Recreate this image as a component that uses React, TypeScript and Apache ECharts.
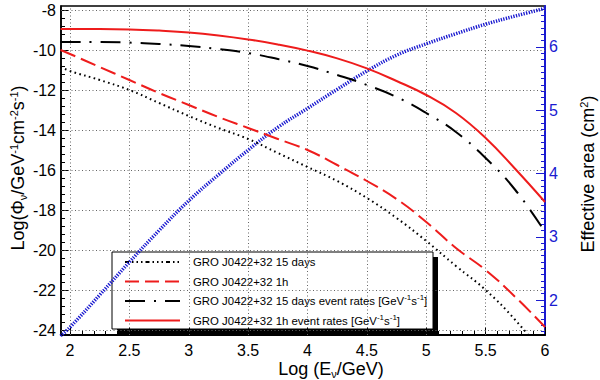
import React, { useEffect, useRef } from "react";
import * as echarts from "echarts";

// ---- data ----
const logE = [1.92, 2.0, 2.25, 2.5, 2.75, 3.0, 3.25, 3.5, 3.75, 4.0, 4.25, 4.5, 4.75, 5.0, 5.25, 5.5, 5.75, 6.0];
const flux15d = [-10.85, -11.05, -11.5, -12.0, -12.65, -13.3, -13.9, -14.45, -15.15, -15.85, -16.55, -17.4, -18.4, -19.55, -20.8, -22.0, -23.5, -25.3];
const flux1h = [-10.0, -10.2, -10.85, -11.5, -12.15, -12.75, -13.35, -13.9, -14.45, -15.0, -15.75, -16.55, -17.45, -18.6, -19.9, -21.0, -22.35, -23.85];
const rate15d = [-9.6, -9.6, -9.6, -9.63, -9.7, -9.8, -9.95, -10.15, -10.45, -10.8, -11.25, -11.75, -12.35, -13.15, -14.1, -15.4, -17.0, -19.1];
const rate1h = [-8.95, -8.95, -8.95, -8.97, -9.03, -9.12, -9.27, -9.47, -9.72, -10.03, -10.42, -10.92, -11.55, -12.25, -13.15, -14.4, -15.95, -17.6];
const effArea = [1.43, 1.57, 2.08, 2.6, 3.1, 3.57, 3.98, 4.37, 4.73, 5.03, 5.33, 5.62, 5.87, 6.05, 6.21, 6.36, 6.49, 6.61];

const xTicks = [2, 2.5, 3, 3.5, 4, 4.5, 5, 5.5, 6];
const yTicks = [-24, -22, -20, -18, -16, -14, -12, -10, -8];
const y2Ticks = [2, 3, 4, 5, 6];

const legendNames = [
  "GRO J0422+32 15 days",
  "GRO J0422+32 1h",
  "GRO J0422+32 15 days event rates",
  "GRO J0422+32 1h event rates",
];

const X_MIN = 1.924, X_MAX = 6.0;
const Y_MIN = -24.25, Y_MAX = -7.8;
const Y2_MIN = 1.447, Y2_MAX = 6.648;

function range(a: number, b: number, step: number) {
  const out: number[] = [];
  const n = Math.round((b - a) / step);
  for (let i = 0; i <= n; i++) out.push(Math.round((a + i * step) * 1000) / 1000);
  return out;
}
const xMinor = range(1.8, 6.0, 0.1).filter((v) => v > X_MIN && v < X_MAX);
const yMinor = range(-24.4, -7.6, 0.4).filter((v) => v > Y_MIN && v < Y_MAX);
const y2Minor = range(1.0, 7.0, 0.1).filter((v) => v > Y2_MIN && v < Y2_MAX);

const pairs = (ys: number[]) => logE.map((x, i) => [x, ys[i]]);

const FONT = "Liberation Sans, Arial, Helvetica, sans-serif";
const BLUE = "#1a1ad0";
const RED = "#ee1c1c";

export default function App() {
  const ref = useRef<HTMLDivElement>(null);
  useEffect(() => {
    if (!ref.current) return;
    const chart = echarts.init(ref.current, null, { renderer: "svg" });

    const titleRich = {
      m: { fontSize: 18, fontFamily: FONT, color: "#000", lineHeight: 20 },
      sup: { fontSize: 11, fontFamily: FONT, color: "#000", lineHeight: 12, verticalAlign: "top" },
      sub: { fontSize: 11, fontFamily: FONT, color: "#000", lineHeight: 12, verticalAlign: "bottom" },
    };
    const legRich = {
      m: { fontSize: 11.4, fontFamily: FONT, color: "#000", lineHeight: 15 },
      sup: { fontSize: 8, fontFamily: FONT, color: "#000", lineHeight: 9, verticalAlign: "top" },
    };

    const legendRowsY = [262, 281.5, 301, 320.5];
    const legendStyles: any[] = [
      { stroke: "#000", lineWidth: 2, lineDash: [4, 3, 1.5, 3, 1.5, 3, 1.5, 3] },
      { stroke: RED, lineWidth: 2, lineDash: [14, 6] },
      { stroke: "#000", lineWidth: 2, lineDash: [20, 9, 2, 9] },
      { stroke: RED, lineWidth: 2 },
    ];
    const legendTexts = [
      `{m|${legendNames[0]}}`,
      `{m|${legendNames[1]}}`,
      `{m|${legendNames[2]} [GeV}{sup|-1}{m|s}{sup|-1}{m|]}`,
      `{m|${legendNames[3]} [GeV}{sup|-1}{m|s}{sup|-1}{m|]}`,
    ];

    const legendChildren: any[] = [
      { type: "rect", shape: { x: 117, y: 257, width: 321, height: 77 }, style: { fill: "#000" } },
      { type: "rect", shape: { x: 112, y: 252, width: 321, height: 77 }, style: { fill: "#fff", stroke: "#000", lineWidth: 1 } },
    ];
    legendRowsY.forEach((y, i) => {
      legendChildren.push({ type: "line", shape: { x1: 125, y1: y, x2: 180, y2: y }, style: legendStyles[i] });
      legendChildren.push({
        type: "text",
        x: 193,
        y: y,
        style: { text: legendTexts[i], rich: legRich, verticalAlign: "middle", align: "left" },
      });
    });

    const axisBase = {
      type: "value" as const,
      splitLine: { show: false },
      minorTick: { show: false },
    };

    const gridLineData = [
      ...xTicks.filter((v) => v < X_MAX).map((v) => ({ xAxis: v })),
      ...yTicks.map((v) => ({ yAxis: v })),
    ];

    const lineBase = {
      type: "line" as const,
      smooth: 0.45,
      showSymbol: false,
      clip: true,
      z: 3,
    };

    const option: any = {
      animation: false,
      backgroundColor: "#fff",
      grid: { left: 61, right: 55, top: 6, bottom: 45, show: true, borderColor: "#000", borderWidth: 1.5, backgroundColor: "transparent" },
      xAxis: [
        {
          ...axisBase,
          min: X_MIN,
          max: X_MAX,
          position: "bottom",
          axisLine: { show: true, lineStyle: { color: "#000", width: 2 } },
          axisTick: { show: true, inside: true, length: 8, customValues: xTicks, lineStyle: { color: "#000", width: 1 } },
          axisLabel: { show: true, customValues: xTicks, fontSize: 16, fontFamily: FONT, color: "#000", margin: 7 },
        },
        {
          ...axisBase,
          min: X_MIN,
          max: X_MAX,
          position: "bottom",
          axisLine: { show: false },
          axisTick: { show: true, inside: true, length: 4, customValues: xMinor, lineStyle: { color: "#000", width: 1 } },
          axisLabel: { show: false },
        },
      ],
      yAxis: [
        {
          ...axisBase,
          min: Y_MIN,
          max: Y_MAX,
          position: "left",
          axisLine: { show: true, lineStyle: { color: "#000", width: 1.5 } },
          axisTick: { show: true, inside: true, length: 8, customValues: yTicks, lineStyle: { color: "#000", width: 1 } },
          axisLabel: { show: true, customValues: yTicks, fontSize: 16, fontFamily: FONT, color: "#000", margin: 5 },
        },
        {
          ...axisBase,
          min: Y2_MIN,
          max: Y2_MAX,
          position: "right",
          axisLine: { show: true, lineStyle: { color: BLUE, width: 2 } },
          axisTick: { show: true, inside: true, length: 9, customValues: y2Ticks, lineStyle: { color: BLUE, width: 1 } },
          axisLabel: { show: true, customValues: y2Ticks, fontSize: 16, fontFamily: FONT, color: BLUE, margin: 4 },
        },
        {
          ...axisBase,
          min: Y_MIN,
          max: Y_MAX,
          position: "left",
          axisLine: { show: false },
          axisTick: { show: true, inside: true, length: 4, customValues: yMinor, lineStyle: { color: "#000", width: 1 } },
          axisLabel: { show: false },
        },
        {
          ...axisBase,
          min: Y2_MIN,
          max: Y2_MAX,
          position: "right",
          axisLine: { show: false },
          axisTick: { show: true, inside: true, length: 4, customValues: y2Minor, lineStyle: { color: BLUE, width: 1 } },
          axisLabel: { show: false },
        },
      ],
      series: [
        {
          ...lineBase,
          name: "effective area",
          xAxisIndex: 0,
          yAxisIndex: 1,
          data: pairs(effArea),
          lineStyle: { color: BLUE, width: 3.5, type: [1.3, 1.3] },
        },
        {
          ...lineBase,
          name: legendNames[0],
          data: pairs(flux15d),
          lineStyle: { color: "#000", width: 2, type: [1.6, 3.4] },
          markLine: {
            silent: true,
            z: 1,
            symbol: ["none", "none"],
            label: { show: false },
            animation: false,
            lineStyle: { color: "#666", width: 1, type: [1, 2.5] },
            emphasis: { disabled: true },
            data: gridLineData,
          },
        },
        {
          ...lineBase,
          name: legendNames[1],
          data: pairs(flux1h),
          lineStyle: { color: RED, width: 2, type: [16, 6] },
        },
        {
          ...lineBase,
          name: legendNames[2],
          data: pairs(rate15d),
          lineStyle: { color: "#000", width: 2, type: [20, 9, 2, 9] },
        },
        {
          ...lineBase,
          name: legendNames[3],
          data: pairs(rate1h),
          lineStyle: { color: RED, width: 2 },
        },
      ],
      graphic: [
        {
          type: "text",
          x: 18,
          y: 168,
          rotation: Math.PI / 2,
          style: {
            text: "{m|Log(Φ}{sub|ν}{m|/GeV}{sup|-1}{m|cm}{sup|-2}{m|s}{sup|-1}{m|)}",
            rich: titleRich,
            align: "center",
            verticalAlign: "middle",
          },
        },
        {
          type: "text",
          x: 588,
          y: 174,
          rotation: Math.PI / 2,
          style: {
            text: "{m|Effective area (cm}{sup|2}{m|)}",
            rich: titleRich,
            align: "center",
            verticalAlign: "middle",
          },
        },
        {
          type: "text",
          x: 331,
          y: 369,
          style: {
            text: "{m|Log (E}{sub|ν}{m|/GeV)}",
            rich: titleRich,
            align: "center",
            verticalAlign: "middle",
          },
        },
        { type: "group", z: 100, children: legendChildren },
      ],
    };

    chart.setOption(option);
    return () => chart.dispose();
  }, []);

  return <div ref={ref} style={{ width: 600, height: 380, position: "absolute", left: 0, top: 0 }} />;
}
